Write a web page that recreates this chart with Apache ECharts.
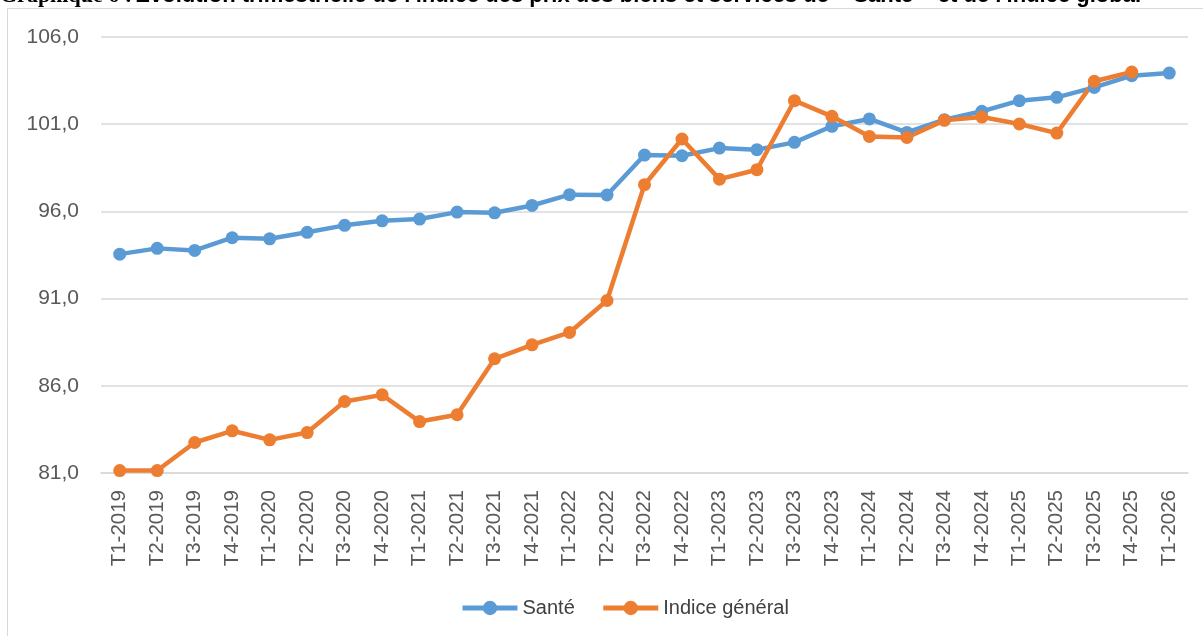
<!DOCTYPE html>
<html>
<head>
<meta charset="utf-8">
<title>Indice des prix - Santé</title>
<script src="https://cdn.jsdelivr.net/npm/echarts@6/dist/echarts.min.js"></script>
<style>
  html, body { margin: 0; padding: 0; background: #fff; }
  #chart { width: 1203px; height: 636px; }
</style>
</head>
<body>
<div id="chart"></div>
<script>
// trimestres
const quarters = [
  'T1-2019', 'T2-2019', 'T3-2019', 'T4-2019',
  'T1-2020', 'T2-2020', 'T3-2020', 'T4-2020',
  'T1-2021', 'T2-2021', 'T3-2021', 'T4-2021',
  'T1-2022', 'T2-2022', 'T3-2022', 'T4-2022',
  'T1-2023', 'T2-2023', 'T3-2023', 'T4-2023',
  'T1-2024', 'T2-2024', 'T3-2024', 'T4-2024',
  'T1-2025', 'T2-2025', 'T3-2025', 'T4-2025',
  'T1-2026'
]

const sante = [
  93.55, 93.88, 93.76, 94.49,
  94.43, 94.80, 95.20, 95.46,
  95.56, 95.96, 95.92, 96.34,
  96.96, 96.94, 99.23, 99.19,
  99.63, 99.54, 99.96, 100.88,
  101.30, 100.53, 101.26, 101.74,
  102.35, 102.54, 103.11, 103.78,
  103.93
]

// pas de valeur pour T1-2026
const indiceGeneral = [
  81.14, 81.14, 82.75, 83.42,
  82.90, 83.32, 85.10, 85.48,
  83.95, 84.34, 87.55, 88.35,
  89.06, 90.89, 97.53, 100.15,
  97.85, 98.39, 102.35, 101.45,
  100.30, 100.24, 101.22, 101.41,
  101.01, 100.49, 103.46, 103.99,
  null
]

const yTicks = { min: 81, max: 106, step: 5 }

const chart = echarts.init(document.getElementById('chart'))

const option = {
  animation: false,
  textStyle: { fontFamily: '"Liberation Sans", Arial, sans-serif' },
  graphic: [
    {
      type: 'rect',
      shape: { x: 7.5, y: 8.5, width: 1300, height: 700 },
      style: { fill: 'none', stroke: '#d9d9d9', lineWidth: 1 },
      silent: true
    },
    {
      type: 'text',
      x: 0,
      y: -15,
      style: {
        text: '{a|Graphique 6 :} {b|Evolution trimestrielle de l\'indice des prix des biens et services de « Santé » et de l\'indice global}',
        rich: {
          a: { font: 'bold 22px "Liberation Serif", serif', fill: '#000' },
          b: { font: 'bold 22px "Liberation Sans", Arial, sans-serif', fill: '#000' }
        }
      },
      silent: true
    }
  ],
  grid: {
    left: 101,
    right: 15,
    top: 37,
    bottom: 163
  },
  legend: {
    left: 455,
    top: 593,
    itemWidth: 55,
    itemHeight: 18,
    itemGap: 26,
    lineStyle: { width: 5 },
    textStyle: { fontSize: 20, color: '#404040' },
    data: ['Santé', 'Indice général']
  },
  xAxis: {
    type: 'category',
    data: quarters,
    boundaryGap: true,
    axisLine: { lineStyle: { color: '#d9d9d9', width: 1.5 } },
    axisTick: { show: false },
    axisLabel: {
      rotate: 90,
      interval: 0,
      margin: 17,
      fontSize: 20.5,
      color: '#595959'
    }
  },
  yAxis: {
    type: 'value',
    min: yTicks.min,
    max: yTicks.max,
    interval: yTicks.step,
    axisLine: { show: false },
    axisTick: { show: false },
    axisLabel: {
      margin: 22,
      fontSize: 21,
      color: '#595959',
      formatter: v => v.toFixed(1).replace('.', ',')
    },
    splitLine: { lineStyle: { color: '#d9d9d9', width: 1.5 } }
  },
  series: [
    {
      name: 'Santé',
      type: 'line',
      data: sante,
      symbol: 'circle',
      symbolSize: 13,
      lineStyle: { width: 4.5, color: '#5b9bd5' },
      itemStyle: { color: '#5b9bd5' }
    },
    {
      name: 'Indice général',
      type: 'line',
      data: indiceGeneral,
      symbol: 'circle',
      symbolSize: 13,
      lineStyle: { width: 4.5, color: '#ed7d31' },
      itemStyle: { color: '#ed7d31' }
    }
  ]
}

chart.setOption(option)
</script>
</body>
</html>
